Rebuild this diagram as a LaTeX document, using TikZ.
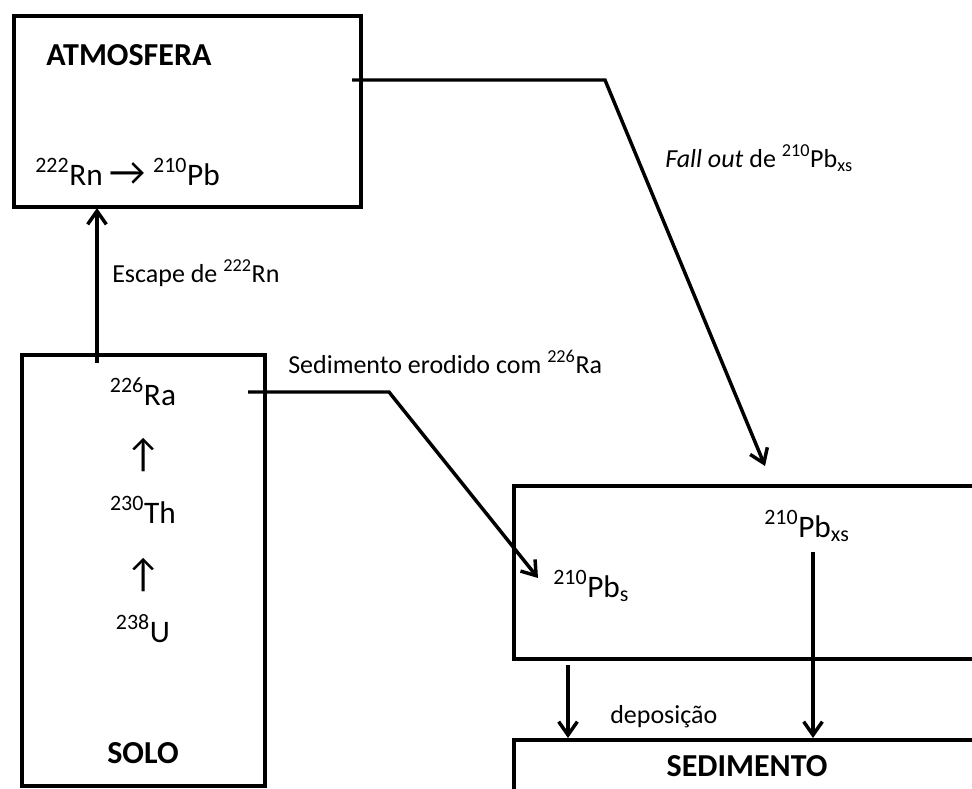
\documentclass[tikz,border=0pt]{standalone}
\usepackage{fontspec}
\setmainfont{Carlito}
\usetikzlibrary{arrows.meta}
\newcommand{\bigarr}[1]{{\fontsize{30}{30}\selectfont #1}}
\begin{document}
\begin{tikzpicture}[x=0.75pt,y=-0.75pt,
  box/.style={draw,line width=3pt,rectangle,inner sep=0pt},
  conn/.style={line width=2.6pt,-{Straight Barb[length=10pt,width=14pt]}},
  lbl/.style={inner sep=0pt,anchor=base west,font=\fontsize{19.5}{22}\selectfont},
  iso/.style={inner sep=0pt,anchor=base west,font=\fontsize{23.5}{26}\selectfont},
  clbl/.style={inner sep=0pt,anchor=base,font=\fontsize{23.5}{26}\selectfont},
  ttl/.style={inner sep=0pt,anchor=base,font=\fontsize{24}{28}\selectfont\bfseries},
]
\useasboundingbox (0,0) rectangle (972,789);
\clip (0,0) rectangle (972,789);
% boxes
\node[box,minimum width=260.25pt,minimum height=143.25pt] (atm) at (187.5,111.5) {};
\node[box,minimum width=182.25pt,minimum height=323.25pt] (solo) at (143.5,570.5) {};
\node[box,minimum width=364.5pt,minimum height=129.75pt] (agua) at (757,572.5) {};
\node[box,minimum width=364.5pt,minimum height=75pt] (sed) at (757,790) {};
% texts
\node[ttl,anchor=base west] (tatm) at (46,65) {ATMOSFERA};
\node[iso] (rnpb) at (35,185) {\textsuperscript{222}Rn \bigarr{→} \textsuperscript{210}Pb};
\node[lbl] (tfall) at (665,167) {\textit{Fall out} de \textsuperscript{210}Pb\textsubscript{xs}};
\node[lbl] (tesc) at (112,282) {Escape de \textsuperscript{222}Rn};
\node[lbl] (tero) at (288,373) {Sedimento erodido com \textsuperscript{226}Ra};
\node[clbl] (ra) at (143,405) {\textsuperscript{226}Ra};
\node[clbl,anchor=center] (up1) at (143.5,455) {\bigarr{↑}};
\node[clbl] (th) at (143,523) {\textsuperscript{230}Th};
\node[clbl,anchor=center] (up2) at (143.5,575) {\bigarr{↑}};
\node[clbl] (u) at (143,642) {\textsuperscript{238}U};
\node[ttl] (tsolo) at (143,763) {SOLO};
\node[iso] (pbs) at (553,597) {\textsuperscript{210}Pb\textsubscript{s}};
\node[iso] (pbxs) at (764,537) {\textsuperscript{210}Pb\textsubscript{xs}};
\node[lbl] (tdep) at (610,723) {deposição};
\node[ttl] (tsed) at (747,776) {SEDIMENTO};
% connector points
\coordinate (fo0) at (352,80);
\coordinate (fo1) at (605,80);
\coordinate (fo2) at (765,466);
\coordinate (es0) at (97,363);
\coordinate (es1) at (97,208);
\coordinate (er0) at (248,392);
\coordinate (er1) at (389,392);
\coordinate (er2) at (538,578);
\coordinate (xs0) at (813,552);
\coordinate (xs1) at (813,738);
\coordinate (dp0) at (568,665);
\coordinate (dp1) at (568,738);
% connectors
\draw[conn] (fo0) -- (fo1) -- (fo2);
\draw[conn] (es0) -- (es1);
\draw[conn] (er0) -- (er1) -- (er2);
\draw[conn] (xs0) -- (xs1);
\draw[conn] (dp0) -- (dp1);
\end{tikzpicture}
\end{document}
